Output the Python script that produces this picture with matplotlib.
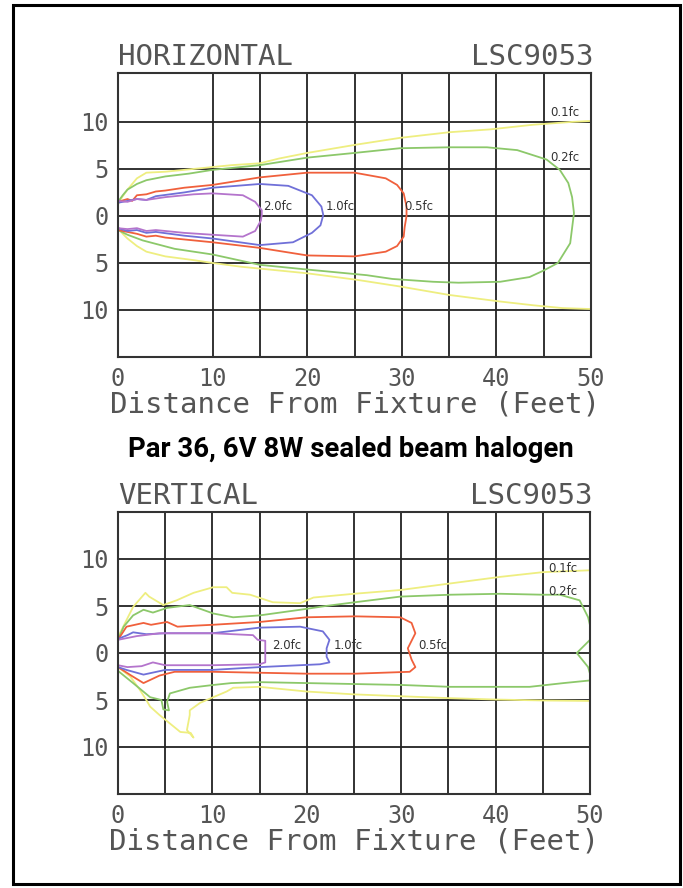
import matplotlib
matplotlib.use("Agg")
import matplotlib.pyplot as plt
from matplotlib.patches import Rectangle

# ---- data: isofootcandle traces (distance ft, offset ft) ----
levels = ["0.1fc", "0.2fc", "0.5fc", "1.0fc", "2.0fc"]
level_colors = ["#eeee80", "#8cc86a", "#f0603c", "#7070d8", "#b474cc"]

# HORIZONTAL panel
h_01_x = [50, 48, 43.9, 39.3, 35, 29.8, 25.3, 20, 17, 15, 12, 10, 7, 5, 3, 2, 1, 0.3, 0,
          0, 0.5, 1, 2, 3, 5, 8, 10, 13, 15, 20, 25.3, 29.8, 35, 40.4, 43.9, 47, 50]
h_01_y = [10.1, 10.0, 9.7, 9.2, 8.9, 8.3, 7.6, 6.7, 6.1, 5.6, 5.4, 5.2, 4.9, 4.7, 4.6, 4.0, 2.8, 1.8, 1.2,
          -1.3, -1.9, -2.4, -3.2, -3.8, -4.3, -4.7, -5.0, -5.4, -5.6, -6.1, -6.8, -7.5, -8.4, -9.1, -9.5, -9.8, -9.9]
h_02_x = [0, 0.5, 1, 2, 3, 5, 7.5, 10, 15, 20, 25, 29.8, 35, 39, 42.2, 45.3, 46.7, 47.6, 48, 48.2,
          47.8, 46.5, 45, 43.5, 40.4, 36, 33.3, 29, 26.3, 20, 15, 10, 6, 2.6, 1, 0]
h_02_y = [1.5, 2.2, 2.8, 3.4, 3.8, 4.2, 4.5, 4.9, 5.4, 6.2, 6.7, 7.2, 7.3, 7.3, 7.0, 6.0, 4.9, 3.5, 2.0, 0.3,
          -2.9, -5.0, -5.8, -6.5, -7.0, -7.1, -7.0, -6.7, -6.3, -5.7, -5.2, -4.1, -3.5, -2.6, -2.0, -1.5]
h_05_x = [0, 1, 1.5, 2, 3, 4, 5, 7, 10, 15, 20, 25, 28.3, 29.5, 30.2, 30.5, 30.5, 30.3, 30.2, 29.5,
          28.3, 25, 20, 15, 10, 7, 5, 4, 3, 2, 1, 0]
h_05_y = [1.5, 1.8, 1.6, 2.2, 2.3, 2.6, 2.7, 3.0, 3.3, 4.1, 4.6, 4.6, 4.0, 3.3, 2.4, 1.0, 0.0, -1.2, -2.2, -3.2,
          -3.8, -4.3, -4.2, -3.4, -2.8, -2.5, -2.3, -2.1, -2.2, -1.9, -1.7, -1.5]
h_10_x = [0, 1, 2, 3, 4, 7, 10, 15, 18, 20.5, 21.5, 21.7, 21.4, 20.5, 18.5, 15, 10, 7, 4, 3, 2, 1, 0]
h_10_y = [1.4, 1.6, 1.8, 1.7, 2.1, 2.5, 3.0, 3.4, 3.2, 2.2, 1.0, 0.1, -1.0, -1.8, -2.8, -3.1, -2.4, -2.1, -1.7,
          -1.8, -1.5, -1.6, -1.3]
h_20_x = [0, 1, 2, 3, 5, 8, 10, 13.2, 14.5, 15.2, 15.2, 15.1, 14.5, 13.2, 10, 7, 4, 3, 2, 1, 0]
h_20_y = [1.6, 1.5, 1.8, 1.7, 2.0, 2.3, 2.4, 2.2, 1.5, 0.6, 0.1, -0.5, -1.6, -2.2, -2.0, -1.8, -1.5, -1.6,
          -1.3, -1.4, -1.3]
h_label_x = [45.7, 45.7, 30.3, 21.9, 15.3]
h_label_y = [11.0, 6.2, 1.0, 1.0, 1.0]

# VERTICAL panel
v_01_x = [50, 45, 40.5, 35.2, 29.9, 25, 20.7, 19.3, 16.4, 14, 12.1, 11.5, 10.1, 8, 6.2, 4.8, 3.3, 2.9, 1.6,
          0.9, 0, 0, 1.3, 2.3, 3.0, 3.4, 4.4, 5.5, 6.6, 7.7, 8.0, 7.3, 7.6, 7.6, 8.7, 10.1, 11.5, 12.2,
          15, 20, 25, 30, 35, 40, 45, 50]
v_01_y = [8.8, 8.6, 8.1, 7.4, 6.7, 6.3, 5.9, 5.3, 5.4, 6.2, 6.4, 7.0, 7.0, 6.4, 5.6, 5.1, 6.0, 6.4, 4.9,
          3.5, 1.7, -1.5, -2.5, -3.9, -5.0, -5.7, -6.6, -7.5, -8.4, -8.5, -9.0, -8.2, -6.6, -6.1, -5.3,
          -4.7, -4.1, -3.7, -3.6, -4.1, -4.4, -4.6, -4.8, -4.95, -5.05, -5.1]
v_02_x = [0, 0.6, 1.6, 2.7, 3.7, 5.2, 7.6, 10.1, 12.2, 15, 19.3, 22, 25.1, 29.9, 35.2, 40.5, 45, 46.8,
          48.9, 49.8, 50.3, 48.6, 49.8, 50.2, 47.2, 43.6, 40, 35.2, 30, 25, 20, 15, 12, 10.1, 7.6, 5.5,
          5.2, 5.4, 4.8, 4.6, 3.4, 1.6, 0]
v_02_y = [1.4, 2.8, 4.0, 4.6, 4.3, 4.8, 5.1, 4.2, 3.8, 4.0, 4.6, 5.0, 5.4, 6.0, 6.2, 6.3, 6.2, 6.2,
          5.6, 3.8, 1.7, 0.0, -1.5, -2.9, -3.2, -3.6, -3.6, -3.6, -3.4, -3.3, -3.2, -3.1, -3.2, -3.4,
          -3.7, -4.3, -5.2, -6.1, -6.0, -5.0, -4.7, -3.2, -1.9]
v_05_x = [0, 0.9, 2.7, 3.5, 5.2, 6.3, 8, 10, 15, 20, 25.1, 29.9, 31.1, 31.5, 30.7, 31.1, 31.5, 30.9,
          25.1, 20, 15, 10, 6, 4.4, 2.7, 1.4, 0]
v_05_y = [1.4, 2.8, 3.2, 3.0, 3.3, 2.8, 2.9, 3.0, 3.3, 3.8, 3.9, 3.8, 3.2, 2.1, 0.5, -0.7, -1.5, -2.0,
          -2.2, -2.2, -2.1, -2.0, -2.0, -2.4, -3.2, -2.4, -1.5]
v_10_x = [0, 1, 1.6, 3, 5, 10, 15, 19.3, 21.7, 22.4, 22.1, 22.1, 22.4, 21.4, 15, 10, 5, 2.7, 0.9, 0]
v_10_y = [1.5, 1.9, 2.2, 2.0, 2.1, 2.1, 2.7, 2.8, 2.3, 1.4, 0.5, -0.4, -1.0, -1.2, -1.5, -1.8, -1.8,
          -2.3, -1.8, -1.5]
v_20_x = [0, 2, 4.4, 10, 14.3, 14.8, 15.6, 15.6, 15, 10, 5, 3.7, 2.5, 1, 0]
v_20_y = [1.4, 1.8, 2.1, 2.1, 1.9, 1.4, 1.3, -1.0, -1.2, -1.3, -1.3, -1.0, -1.4, -1.5, -1.3]
v_label_x = [45.6, 45.6, 31.8, 22.8, 16.3]
v_label_y = [9.0, 6.5, 0.85, 0.85, 0.85]

x_ticks = [0, 10, 20, 30, 40, 50]
y_ticks = [-10, -5, 0, 5, 10]
y_ticklabels = ["10", "5", "0", "5", "10"]

W, H = 683, 888
cad = "DejaVu Sans Mono"
txt_col = "#555555"

fig = plt.figure(figsize=(W / 100, H / 100), dpi=100)
fig.patch.set_facecolor("white")

# outer frame
fig.add_artist(Rectangle((13 / W, 1 - 884 / H), 667 / W, 879 / H, transform=fig.transFigure,
                         fill=False, edgecolor="black", linewidth=2.2))


def panel(box, traces, label_x, label_y, vgrid, title, ylim):
    left, top, right, bottom = box
    ax = fig.add_axes([left / W, 1 - bottom / H, (right - left) / W, (bottom - top) / H])
    ax.set_xlim(0, 50)
    ax.set_ylim(*ylim)
    for xs in vgrid:
        ax.axvline(xs, color="#222222", lw=1.3, zorder=1)
    for ys in y_ticks:
        ax.axhline(ys, color="#222222", lw=1.3, zorder=1)
    for (xs, ys), col in zip(traces, level_colors):
        ax.plot(xs, ys, color=col, lw=1.3, zorder=2)
    for lab, lx, ly in zip(levels, label_x, label_y):
        ax.text(lx, ly, lab, fontsize=8.5, color="#333333", ha="left", va="center", zorder=3)
    for s in ax.spines.values():
        s.set_color("#333333")
        s.set_linewidth(1.5)
    ax.set_xticks(x_ticks)
    ax.set_xticklabels([str(t) for t in x_ticks], family=cad, fontsize=17, color=txt_col)
    ax.set_yticks(y_ticks)
    ax.set_yticklabels(y_ticklabels, family=cad, fontsize=17, color=txt_col)
    ax.tick_params(length=0, pad=7)
    ax.set_xlabel("Distance From Fixture (Feet)", family=cad, fontsize=21, color=txt_col, labelpad=0)
    ax.text(0, 1.028, title, transform=ax.transAxes, family=cad, fontsize=21, color=txt_col,
            ha="left", va="baseline")
    ax.text(1.005, 1.028, "LSC9053", transform=ax.transAxes, family=cad, fontsize=21, color=txt_col,
            ha="right", va="baseline")
    return ax


panel((118, 73, 591, 357),
      [(h_01_x, h_01_y), (h_02_x, h_02_y), (h_05_x, h_05_y), (h_10_x, h_10_y), (h_20_x, h_20_y)],
      h_label_x, h_label_y, [10, 15, 20, 25, 30, 35, 40, 45], "HORIZONTAL", (-15, 15.2))

panel((118, 512, 590, 794),
      [(v_01_x, v_01_y), (v_02_x, v_02_y), (v_05_x, v_05_y), (v_10_x, v_10_y), (v_20_x, v_20_y)],
      v_label_x, v_label_y, [5, 10, 15, 20, 25, 30, 35, 40, 45], "VERTICAL", (-15, 15))

fig.text(351 / W, 1 - 449 / H, "Par 36, 6V 8W sealed beam halogen",
         family=["Liberation Sans Narrow", "Roboto", "DejaVu Sans"], fontweight="bold", fontsize=19.8,
         ha="center", va="center", color="black")

fig.savefig("out.png", dpi=100)
